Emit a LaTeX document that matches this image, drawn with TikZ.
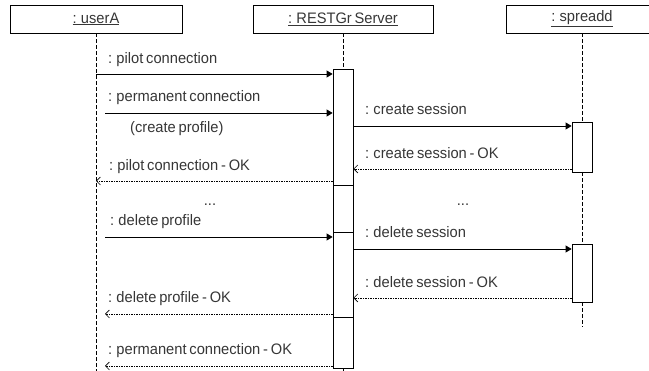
\documentclass[tikz,border=0pt]{standalone}
\usepackage{fontspec}
\setmainfont{Liberation Sans}[FakeStretch=0.965, WordSpace=0.7]
\usetikzlibrary{arrows.meta}
\definecolor{txt}{HTML}{363636}

\begin{document}
\begin{tikzpicture}[x=1pt,y=-1pt,
  every node/.style={font=\fontsize{15.2}{17}\selectfont},
  lbl/.style={anchor=base west, text=txt, inner sep=0pt},
  head/.style={draw, line width=0.8pt, minimum height=28pt, inner sep=0pt, text=txt},
  life/.style={dash pattern=on 4pt off 2pt, line width=0.7pt},
  bar/.style={draw, fill=white, line width=0.8pt, minimum width=20pt, inner sep=0pt},
  call/.style={-{Triangle[length=6pt,width=7pt]}, line width=0.8pt},
  reply/.style={-{Straight Barb[length=4pt,width=8pt]}, dash pattern=on 1.5pt off 1pt, line width=0.6pt}]
\useasboundingbox (0,0) rectangle (649,371);

% object headers
\node[head, minimum width=172pt] (userA) at (96,19) {\underline{: userA}};
\node[head, minimum width=180pt] (rest) at (343,19) {\underline{: RESTGr Server}};
\node[head, minimum width=152pt] (spread) at (582,19) {\underline{: spreadd}};

% activation bars of the server
\node[bar, minimum height=116pt] (act1) at (343,127) {};
\node[bar, minimum height=47pt] (act2) at (343,208.5) {};
\node[bar, minimum height=85pt] (act3) at (343,274.5) {};
\node[bar, minimum height=51pt] (act4) at (343,342.5) {};

% activation bars of spreadd
\node[bar, minimum height=50pt] (sp1) at (582,147) {};
\node[bar, minimum height=58pt] (sp2) at (582,273) {};

% lifelines
\coordinate (uEnd) at (96,371);
\coordinate (rEnd) at (343,371);
\coordinate (sEnd) at (582,327);
\draw[life] (userA.south) -- (uEnd);
\draw[life] (rest.south) -- (act1.north);
\draw[life] (act4.south) -- (rEnd);
\draw[life] (spread.south) -- (sp1.north);
\draw[life] (sp1.south) -- (sp2.north);
\draw[life] (sp2.south) -- (sEnd);

% messages from userA
\coordinate (m1) at (96,74);
\coordinate (m2) at (105,113);
\coordinate (m3) at (96,181);
\coordinate (m4) at (105,237);
\coordinate (m5) at (105,314);
\coordinate (m6) at (105,366);
\draw[call] (m1) -- (m1 -| act1.west);
\draw[call] (m2) -- (m2 -| act1.west);
\draw[reply] (m3 -| act1.west) -- (m3);
\draw[call] (m4) -- (m4 -| act3.west);
\draw[reply] (m5 -| act3.west) -- (m5);
\draw[reply] (m6 -| act4.west) -- (m6);

% messages to spreadd
\coordinate (s1) at (353,126);
\coordinate (s2) at (353,169);
\coordinate (s3) at (353,249);
\coordinate (s4) at (353,298);
\draw[call] (s1 -| act1.east) -- (s1 -| sp1.west);
\draw[reply] (s2 -| sp1.west) -- (s2 -| act1.east);
\draw[call] (s3 -| act3.east) -- (s3 -| sp2.west);
\draw[reply] (s4 -| sp2.west) -- (s4 -| act3.east);

% message labels
\node[lbl] (t1) at (108,63.5) {: pilot connection};
\node[lbl] (t2) at (108,102) {: permanent connection};
\node[lbl] (t3) at (130,132.5) {(create profile)};
\node[lbl] (t4) at (109,170.5) {: pilot connection - OK};
\node[lbl] (t5) at (110,226) {: delete profile};
\node[lbl] (t6) at (108,303) {: delete profile - OK};
\node[lbl] (t7) at (108,355) {: permanent connection - OK};
\node[lbl] (t8) at (365,115) {: create session};
\node[lbl] (t9) at (365,158.3) {: create session - OK};
\node[lbl] (t10) at (365,238) {: delete session};
\node[lbl] (t11) at (365,287.3) {: delete session - OK};
\node[anchor=base, text=txt, inner sep=0pt] (d1) at (210,206) {...};
\node[anchor=base, text=txt, inner sep=0pt] (d2) at (463,206) {...};
\end{tikzpicture}
\end{document}
